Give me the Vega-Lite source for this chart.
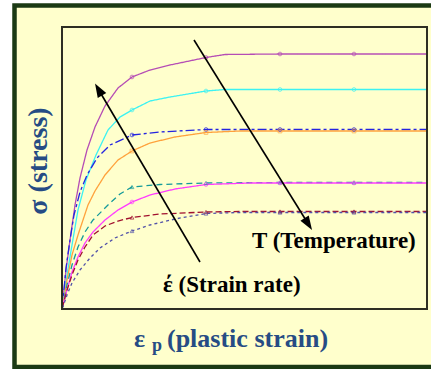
{
  "$schema": "https://vega.github.io/schema/vega-lite/v6.json",
  "width": 365,
  "height": 282,
  "autosize": {"type": "none"},
  "padding": {"left": 62, "top": 27, "right": 4, "bottom": 60},
  "background": "#FFFFFF",
  "config": {
    "view": {"fill": "#FFFFCC", "stroke": null}
  },
  "datasets": {
    "curves": [
      {"s":"c1","x":0,"y":2},{"s":"c1","x":0.1,"y":18},{"s":"c1","x":0.4,"y":78},{"s":"c1","x":0.8,"y":138},{"s":"c1","x":1.3,"y":208},{"s":"c1","x":1.8,"y":262},{"s":"c1","x":2.5,"y":318},{"s":"c1","x":3.3,"y":364},{"s":"c1","x":4.3,"y":406},{"s":"c1","x":5.6,"y":442},{"s":"c1","x":7.0,"y":464},{"s":"c1","x":8.8,"y":478},{"s":"c1","x":10.8,"y":488},{"s":"c1","x":14.4,"y":503},{"s":"c1","x":16.3,"y":509},{"s":"c1","x":21.8,"y":510},{"s":"c1","x":29.2,"y":510},{"s":"c1","x":36.5,"y":510},
      {"s":"c2","x":0,"y":2},{"s":"c2","x":0.1,"y":10},{"s":"c2","x":0.5,"y":68},{"s":"c2","x":1.0,"y":128},{"s":"c2","x":1.6,"y":198},{"s":"c2","x":2.4,"y":258},{"s":"c2","x":3.4,"y":308},{"s":"c2","x":4.6,"y":358},{"s":"c2","x":5.8,"y":384},{"s":"c2","x":7.0,"y":398},{"s":"c2","x":8.8,"y":416},{"s":"c2","x":10.8,"y":424},{"s":"c2","x":14.4,"y":436},{"s":"c2","x":16.3,"y":439},{"s":"c2","x":21.8,"y":439},{"s":"c2","x":29.2,"y":439},{"s":"c2","x":36.5,"y":439},
      {"s":"c3","x":0,"y":2},{"s":"c3","x":0.1,"y":18},{"s":"c3","x":0.4,"y":82},{"s":"c3","x":0.8,"y":138},{"s":"c3","x":1.2,"y":188},{"s":"c3","x":1.8,"y":234},{"s":"c3","x":2.5,"y":268},{"s":"c3","x":3.5,"y":302},{"s":"c3","x":4.8,"y":328},{"s":"c3","x":7.0,"y":348},{"s":"c3","x":9.8,"y":354},{"s":"c3","x":14.4,"y":359},{"s":"c3","x":21.8,"y":359},{"s":"c3","x":29.2,"y":359},{"s":"c3","x":36.5,"y":359},
      {"s":"c4","x":0,"y":2},{"s":"c4","x":0.1,"y":8},{"s":"c4","x":0.5,"y":58},{"s":"c4","x":1.0,"y":108},{"s":"c4","x":1.6,"y":148},{"s":"c4","x":2.0,"y":172},{"s":"c4","x":2.6,"y":208},{"s":"c4","x":3.3,"y":236},{"s":"c4","x":4.3,"y":268},{"s":"c4","x":5.6,"y":298},{"s":"c4","x":7.0,"y":316},{"s":"c4","x":8.8,"y":332},{"s":"c4","x":11.3,"y":344},{"s":"c4","x":14.4,"y":353},{"s":"c4","x":17.8,"y":356},{"s":"c4","x":21.8,"y":356},{"s":"c4","x":29.2,"y":356},{"s":"c4","x":36.5,"y":356},
      {"s":"c5","x":0,"y":2},{"s":"c5","x":0.1,"y":8},{"s":"c5","x":0.5,"y":48},{"s":"c5","x":1.0,"y":88},{"s":"c5","x":1.6,"y":124},{"s":"c5","x":2.3,"y":154},{"s":"c5","x":3.1,"y":178},{"s":"c5","x":4.6,"y":208},{"s":"c5","x":5.8,"y":230},{"s":"c5","x":7.0,"y":244},{"s":"c5","x":9.8,"y":249},{"s":"c5","x":14.4,"y":252},{"s":"c5","x":21.8,"y":253},{"s":"c5","x":29.2,"y":253},{"s":"c5","x":36.5,"y":253},
      {"s":"c6","x":0,"y":2},{"s":"c6","x":0.1,"y":8},{"s":"c6","x":0.5,"y":38},{"s":"c6","x":1.0,"y":74},{"s":"c6","x":1.6,"y":104},{"s":"c6","x":2.3,"y":132},{"s":"c6","x":3.1,"y":154},{"s":"c6","x":4.3,"y":178},{"s":"c6","x":5.6,"y":198},{"s":"c6","x":7.0,"y":214},{"s":"c6","x":8.8,"y":228},{"s":"c6","x":11.3,"y":240},{"s":"c6","x":14.4,"y":249},{"s":"c6","x":18.8,"y":252},{"s":"c6","x":21.8,"y":252},{"s":"c6","x":29.2,"y":252},{"s":"c6","x":36.5,"y":252},
      {"s":"c7","x":0,"y":2},{"s":"c7","x":0.1,"y":8},{"s":"c7","x":0.5,"y":38},{"s":"c7","x":1.0,"y":68},{"s":"c7","x":1.6,"y":98},{"s":"c7","x":2.3,"y":124},{"s":"c7","x":3.1,"y":148},{"s":"c7","x":4.3,"y":166},{"s":"c7","x":5.6,"y":176},{"s":"c7","x":7.0,"y":183},{"s":"c7","x":9.8,"y":190},{"s":"c7","x":14.4,"y":194},{"s":"c7","x":17.8,"y":195},{"s":"c7","x":21.8,"y":195},{"s":"c7","x":29.2,"y":195},{"s":"c7","x":36.5,"y":195},
      {"s":"c8","x":0,"y":2},{"s":"c8","x":0.1,"y":4},{"s":"c8","x":0.5,"y":28},{"s":"c8","x":1.0,"y":52},{"s":"c8","x":1.8,"y":78},{"s":"c8","x":2.8,"y":102},{"s":"c8","x":3.8,"y":122},{"s":"c8","x":5.3,"y":142},{"s":"c8","x":7.0,"y":156},{"s":"c8","x":8.8,"y":168},{"s":"c8","x":11.3,"y":180},{"s":"c8","x":14.4,"y":191},{"s":"c8","x":17.8,"y":193},{"s":"c8","x":21.8,"y":193},{"s":"c8","x":29.2,"y":193},{"s":"c8","x":36.5,"y":193}
    ],
    "arrows": [
      {"a":"T","x":13.2,"y":538,"x2":24.63,"y2":170},
      {"a":"e","x":13.8,"y":94,"x2":3.65,"y2":439}
    ],
    "labels": [
      {"label":"T (Temperature)","x":19.0,"y":122},
      {"label":"έ (Strain rate)","x":10.1,"y":34}
    ],
    "ytitle": [
      {"label":"σ (stress)","x":-2.35,"y":296}
    ],
    "xtitle": [
      {"label":"ε","x":7.2,"y":-76},
      {"label":"(plastic strain)","x":10.5,"y":-76}
    ],
    "xsub": [
      {"label":"p","x":9.0,"y":-84}
    ]
  },
  "layer": [
    {
      "data": {"values": [{}]},
      "mark": {"type": "rect", "fill": "#FFFFCC", "stroke": "#1B3A14", "strokeWidth": 4.5, "clip": false},
      "encoding": {
        "x": {"datum": -4.75, "type": "quantitative", "scale": {"domain": [0, 36.5], "nice": false, "zero": false}, "axis": null},
        "x2": {"datum": 39},
        "y": {"datum": -116, "type": "quantitative", "scale": {"domain": [0, 564], "nice": false, "zero": false}, "axis": null},
        "y2": {"datum": 607}
      }
    },
    {
      "data": {"name": "curves"},
      "mark": {"type": "line", "strokeWidth": 1.3},
      "encoding": {
        "x": {"field": "x", "type": "quantitative", "axis": null},
        "y": {"field": "y", "type": "quantitative", "axis": null},
        "detail": {"field": "s"},
        "color": {"field": "s", "type": "nominal", "legend": null, "scale": {"domain": ["c1","c2","c3","c4","c5","c6","c7","c8"], "range": ["#B54DB5","#3CF2F2","#2424E0","#FFA23C","#149A9A","#FF3CFF","#A0102E","#5252A8"]}},
        "strokeDash": {"field": "s", "type": "nominal", "legend": null, "scale": {"domain": ["c1","c2","c3","c4","c5","c6","c7","c8"], "range": [[1,0],[1,0],[9,3,3,3],[1,0],[6,4],[1,0],[6,3],[3,3]]}}
      }
    },
    {
      "data": {"name": "curves"},
      "transform": [{"filter": "datum.x == 7 || datum.x == 14.4 || datum.x == 21.8 || datum.x == 29.2"}],
      "mark": {"type": "point", "filled": false, "size": 14, "strokeWidth": 1},
      "encoding": {
        "x": {"field": "x", "type": "quantitative", "axis": null},
        "y": {"field": "y", "type": "quantitative", "axis": null},
        "color": {"field": "s", "type": "nominal", "legend": null},
        "shape": {"field": "s", "type": "nominal", "legend": null, "scale": {"domain": ["c1","c2","c3","c4","c5","c6","c7","c8"], "range": ["circle","circle","circle","square","triangle-up","circle","triangle-up","triangle-up"]}}
      }
    },
    {
      "data": {"name": "arrows"},
      "mark": {"type": "rule", "color": "#000000", "strokeWidth": 1.6, "clip": false},
      "encoding": {
        "x": {"field": "x", "type": "quantitative", "axis": null},
        "y": {"field": "y", "type": "quantitative", "axis": null},
        "x2": {"field": "x2"},
        "y2": {"field": "y2"}
      }
    },
    {
      "data": {"name": "arrows"},
      "transform": [{"filter": "datum.a == 'T'"}],
      "mark": {"type": "point", "shape": "M0,-1L0.7,1L-0.7,1Z", "filled": true, "color": "#000000", "size": 196, "angle": 148, "opacity": 1},
      "encoding": {
        "x": {"field": "x2", "type": "quantitative", "axis": null},
        "y": {"field": "y2", "type": "quantitative", "axis": null}
      }
    },
    {
      "data": {"name": "arrows"},
      "transform": [{"filter": "datum.a == 'e'"}],
      "mark": {"type": "point", "shape": "M0,-1L0.7,1L-0.7,1Z", "filled": true, "color": "#000000", "size": 196, "angle": 330, "opacity": 1},
      "encoding": {
        "x": {"field": "x2", "type": "quantitative", "axis": null},
        "y": {"field": "y2", "type": "quantitative", "axis": null}
      }
    },
    {
      "data": {"name": "labels"},
      "mark": {"type": "text", "font": "Liberation Serif", "fontSize": 23, "fontWeight": "bold", "color": "#000000", "align": "left", "baseline": "alphabetic"},
      "encoding": {
        "x": {"field": "x", "type": "quantitative", "axis": null},
        "y": {"field": "y", "type": "quantitative", "axis": null},
        "text": {"field": "label"}
      }
    },
    {
      "data": {"name": "ytitle"},
      "mark": {"type": "text", "font": "Liberation Serif", "fontSize": 28, "fontWeight": "bold", "color": "#264C84", "align": "center", "baseline": "middle", "angle": 270, "clip": false},
      "encoding": {
        "x": {"field": "x", "type": "quantitative", "axis": null},
        "y": {"field": "y", "type": "quantitative", "axis": null},
        "text": {"field": "label"}
      }
    },
    {
      "data": {"name": "xtitle"},
      "mark": {"type": "text", "font": "Liberation Serif", "fontSize": 26, "fontWeight": "bold", "color": "#264C84", "align": "left", "baseline": "alphabetic", "clip": false},
      "encoding": {
        "x": {"field": "x", "type": "quantitative", "axis": null},
        "y": {"field": "y", "type": "quantitative", "axis": null},
        "text": {"field": "label"}
      }
    },
    {
      "data": {"name": "xsub"},
      "mark": {"type": "text", "font": "Liberation Serif", "fontSize": 18, "fontWeight": "bold", "color": "#264C84", "align": "left", "baseline": "alphabetic", "clip": false},
      "encoding": {
        "x": {"field": "x", "type": "quantitative", "axis": null},
        "y": {"field": "y", "type": "quantitative", "axis": null},
        "text": {"field": "label"}
      }
    },
    {
      "data": {"values": [{}]},
      "mark": {"type": "rect", "fill": null, "stroke": "#2E2E22", "strokeWidth": 2, "clip": false},
      "encoding": {
        "x": {"datum": 0, "type": "quantitative", "axis": null},
        "x2": {"datum": 36.5},
        "y": {"datum": 0, "type": "quantitative", "axis": null},
        "y2": {"datum": 564}
      }
    }
  ]
}
